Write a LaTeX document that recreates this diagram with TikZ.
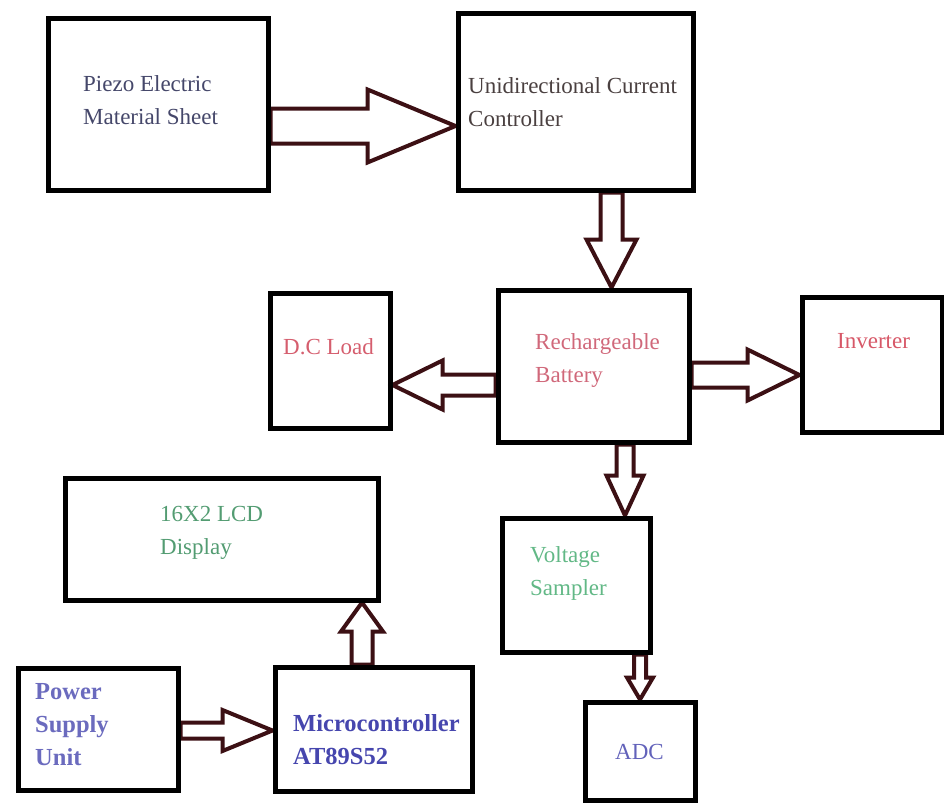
\documentclass[tikz,border=0pt]{standalone}
\usepackage{fontspec}
\setmainfont{Liberation Serif}
\usetikzlibrary{calc,backgrounds}

\definecolor{arrowred}{HTML}{3C1014}
\definecolor{slatetxt}{HTML}{45476A}
\definecolor{greytxt}{HTML}{4A4040}
\definecolor{pinktxt}{HTML}{D0687A}
\definecolor{greentxt}{HTML}{62B886}
\definecolor{bluetxt}{HTML}{4646AE}

% hollow block arrow: start, tip, shaft half width, head half width, head length
\newcommand\hollowarrow[5]{%
  \coordinate (hb) at ($(#2)!#5!(#1)$);
  \draw[flow] ($(#1)!#3!90:(#2)$) -- ($(hb)!#3!90:(#2)$) -- ($(hb)!#4!90:(#2)$)
    -- (#2) -- ($(hb)!#4!-90:(#2)$) -- ($(hb)!#3!-90:(#2)$)
    -- ($(#1)!#3!-90:(#2)$) -- cycle;
}

\begin{document}
\begin{tikzpicture}[
    x=1pt, y=-1pt,
    box/.style={draw, line width=5pt, anchor=north west, inner sep=0pt},
    flow/.style={draw=arrowred, line width=4pt, fill=white, line join=miter},
    txt/.style={anchor=west, inner sep=0pt, align=left, font=\fontsize{23}{33}\selectfont},
    btxt/.style={txt, font=\fontsize{24.5}{33}\selectfont\bfseries}
]
    \useasboundingbox (0,0) rectangle (944,809);

    % blocks
    \node[box, minimum width=220pt, minimum height=172pt] (piezo) at (45.5,15.5) {};
    \node[box, minimum width=235pt, minimum height=177pt] (ucc) at (455.5,10.5) {};
    \node[box, minimum width=191pt, minimum height=152pt] (battery) at (495.5,287.5) {};
    \node[box, minimum width=140pt, minimum height=135pt] (inverter) at (799.5,294.5) {};
    \node[box, minimum width=120pt, minimum height=135pt] (dcload) at (267.5,290.5) {};
    \node[box, minimum width=313pt, minimum height=122pt] (lcd) at (62.5,475.5) {};
    \node[box, minimum width=148pt, minimum height=134pt] (sampler) at (499.5,515.5) {};
    \node[box, minimum width=160pt, minimum height=122pt] (psu) at (15.5,665.5) {};
    \node[box, minimum width=197pt, minimum height=124pt] (mcu) at (272.5,664.5) {};
    \node[box, minimum width=110pt, minimum height=98pt] (adc) at (582.5,699.5) {};

    % labels
    \node[txt, text=slatetxt] (piezo-t) at (83,100.5) {Piezo Electric\\Material Sheet};
    \node[txt, text=greytxt] (ucc-t) at (468,102) {Unidirectional Current\\Controller};
    \node[txt, text=pinktxt] (battery-t) at (535,360) {Rechargeable\\Battery};
    \node[txt, text=pinktxt!85!red] (inverter-t) at (837,341) {Inverter};
    \node[txt, text=pinktxt!90!red] (dcload-t) at (283,347) {D.C Load};
    \node[txt, text=greentxt!85!black] (lcd-t) at (160,533) {16X2 LCD\\Display};
    \node[txt, text=greentxt] (sampler-t) at (530,573) {Voltage\\Sampler};
    \node[btxt, text=bluetxt!80] (psu-t) at (35,725) {Power\\Supply\\Unit};
    \node[btxt, text=bluetxt] (mcu-t) at (293,740) {Microcontroller\\AT89S52};
    \node[txt, text=bluetxt!85] (adc-t) at (615,752) {ADC};

    % arrow ends
    \coordinate (piezo-o) at ($(piezo.east)+(0,22)$);
    \coordinate (ucc-i) at (piezo-o -| ucc.west);
    \coordinate (ucc-o) at ($(ucc.south)+(36,0)$);
    \coordinate (battery-i) at (ucc-o |- battery.north);
    \coordinate (battery-e) at ($(battery.east)+(0,9)$);
    \coordinate (inverter-i) at (battery-e -| inverter.west);
    \coordinate (battery-w) at ($(battery.west)+(0,19)$);
    \coordinate (dcload-i) at (battery-w -| dcload.east);
    \coordinate (battery-s) at ($(battery.south)+(31.5,0)$);
    \coordinate (sampler-i) at (battery-s |- sampler.north);
    \coordinate (sampler-o) at ($(sampler.south east)+(-12.5,0)$);
    \coordinate (adc-i) at (sampler-o |- adc.north);
    \coordinate (psu-o) at ($(psu.east)+(0,1.5)$);
    \coordinate (mcu-i) at (psu-o -| mcu.west);
    \coordinate (mcu-o) at ($(mcu.north)+(-11.5,0)$);
    \coordinate (lcd-i) at (mcu-o |- lcd.south);

    \begin{scope}[on background layer]
        \foreach \a/\b/\s/\h/\l in {piezo-o/ucc-i/17.5pt/36.5pt/88pt,
            ucc-o/battery-i/11pt/25pt/48pt,
            battery-e/inverter-i/12.5pt/25.5pt/52pt,
            battery-w/dcload-i/10.5pt/24.5pt/50pt,
            battery-s/sampler-i/8.5pt/18.5pt/40pt,
            sampler-o/adc-i/6pt/13pt/22pt,
            psu-o/mcu-i/8pt/20.5pt/50pt,
            mcu-o/lcd-i/10.5pt/21pt/29pt}
            \hollowarrow{\a}{\b}{\s}{\h}{\l};
    \end{scope}
\end{tikzpicture}
\end{document}
